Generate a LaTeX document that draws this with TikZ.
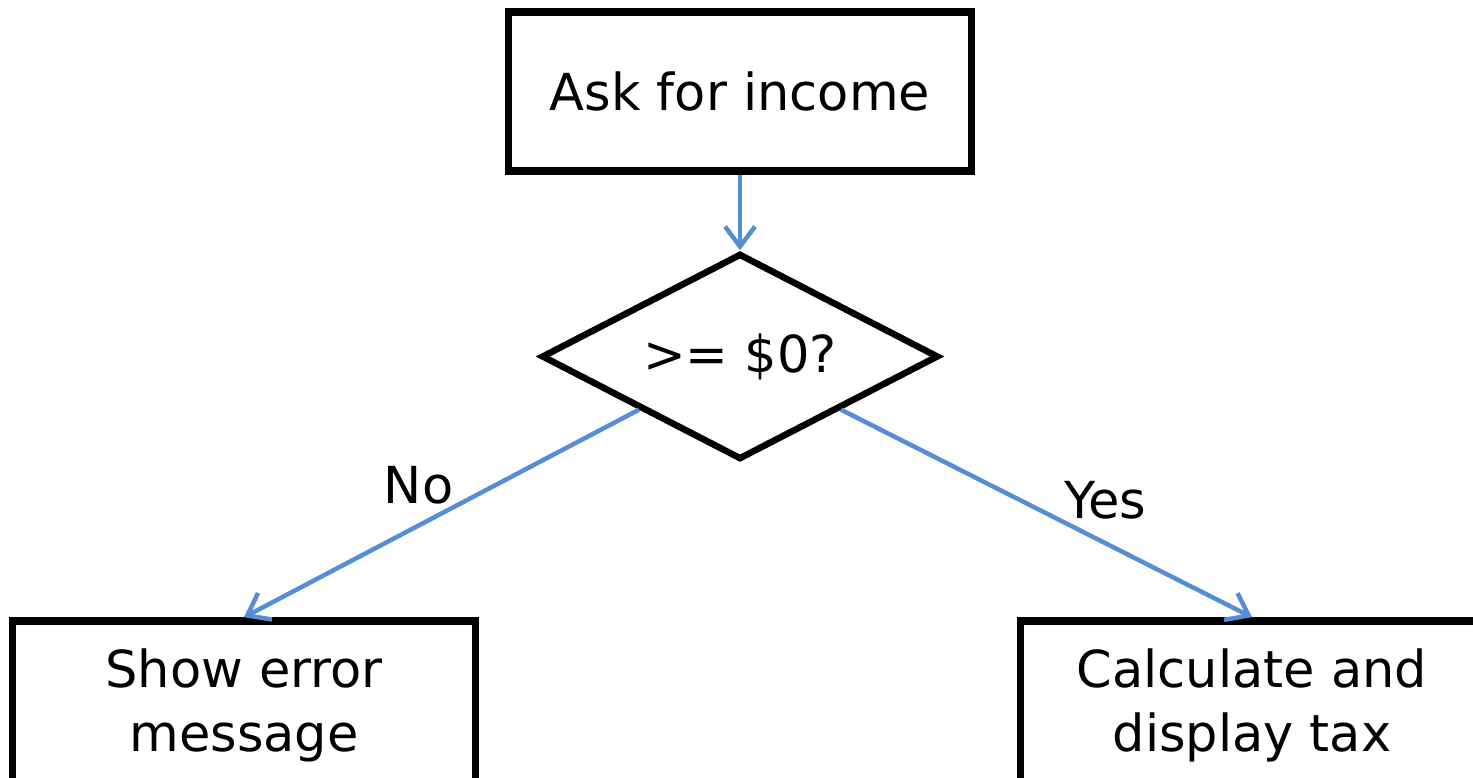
\documentclass[tikz,border=0pt]{standalone}
\usepackage{fontspec}
\setmainfont{DejaVu Sans}
\usetikzlibrary{shapes.geometric, arrows.meta, positioning}
\definecolor{flowblue}{RGB}{85,142,213}

\begin{document}
\begin{tikzpicture}[x=1pt, y=-1pt, font=\fontsize{51}{64}\selectfont,
  box/.style={rectangle, draw, line width=7.5pt, align=center, minimum width=463pt},
  decision/.style={diamond, draw, line width=6.5pt, aspect=2, minimum width=397pt, minimum height=206pt, inner sep=0pt},
  flow/.style={draw=flowblue, line width=4.5pt, -{Straight Barb[length=20pt, width=30pt]}},
  lbl/.style={inner sep=3pt}]
  \useasboundingbox (0,0) rectangle (1473,778);
  \node[box, minimum height=159pt] (ask) at (740,91.5) {Ask for income};
  \node[decision, below=75.5pt of ask] (check) {>= \$0?};
  \node[box, minimum height=168pt] (error) at (244,705) {Show error\\message};
  \node[box, minimum height=168pt] (tax) at (1252,705) {Calculate and\\display tax};
  \draw[flow] (ask) -- (check);
  \draw[flow] (check.south west) -- node[lbl, pos=0.48, anchor=south east, xshift=9pt] (no) {No} (error.north);
  \draw[flow] (check.south east) -- node[lbl, pos=0.53, anchor=south west, yshift=-5pt] (yes) {Yes} (tax.north);
\end{tikzpicture}
\end{document}
